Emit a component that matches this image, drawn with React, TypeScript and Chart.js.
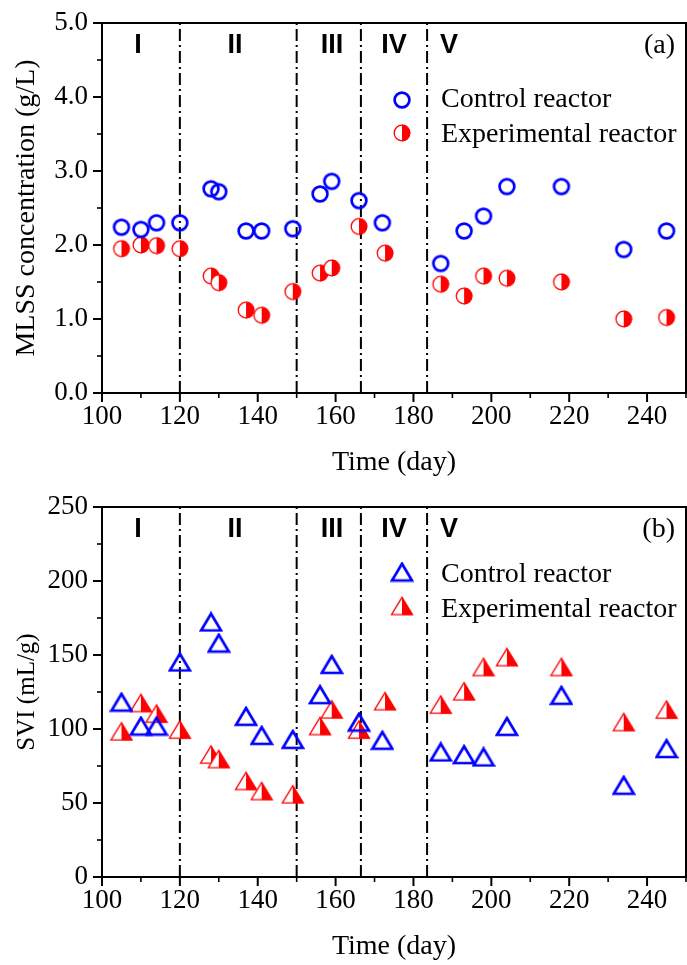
import React, { useEffect, useRef } from 'react';
import { Chart, registerables } from 'chart.js';
Chart.register(...registerables);

// ---- data ----
const phaseBounds = [120, 150, 166.5, 183.5];
const phaseLabels = ['I', 'II', 'III', 'IV', 'V'];

const mlssControlDays = [105, 110, 114, 120, 128, 130, 137, 141, 149, 156, 159, 166, 172, 187, 193, 198, 204, 218, 234, 245];
const mlssControl = [2.24, 2.21, 2.3, 2.3, 2.76, 2.72, 2.19, 2.19, 2.22, 2.69, 2.86, 2.6, 2.3, 1.75, 2.19, 2.39, 2.79, 2.79, 1.94, 2.19];
const mlssExpDays = [105, 110, 114, 120, 128, 130, 137, 141, 149, 156, 159, 166, 172.7, 187, 193, 198, 204, 218, 234, 245];
const mlssExp = [1.95, 2.0, 1.99, 1.95, 1.58, 1.49, 1.12, 1.05, 1.37, 1.62, 1.69, 2.25, 1.89, 1.47, 1.31, 1.58, 1.55, 1.5, 1.0, 1.02];

const sviControlDays = [105, 110, 114, 120, 128, 130, 137, 141, 149, 156, 159, 166, 172, 187, 193, 198, 204, 218, 234, 245];
const sviControl = [118.2, 102, 102, 145.3, 172.3, 158.1, 108.6, 95.7, 93, 123.2, 143.7, 104.7, 92.4, 84.5, 82.7, 81.1, 101.8, 122.8, 62, 86.8];
const sviExpDays = [105, 110, 114, 120, 128, 130, 137, 141, 149, 156, 159, 166, 172.7, 187, 193, 198, 204, 218, 234, 245];
const sviExp = [98.4, 117.6, 110.4, 99.6, 82.7, 79.7, 64.9, 58.1, 55.9, 102, 113.3, 99.6, 118.8, 116.5, 125.5, 141.9, 148.6, 141.9, 104.7, 113.1];

const xTickLabels = [100, 120, 140, 160, 180, 200, 220, 240];

// ---- layout / style ----
const SERIF = '"Liberation Serif", "Times New Roman", serif';
const SANS = '"Liberation Sans", Arial, sans-serif';
const BLUE = '#0000FF';
const RED = '#FF0000';
const phaseLabelX = [138, 235, 332, 394, 449];

function makeMarker(kind: string): HTMLCanvasElement {
  const c = document.createElement('canvas');
  const isTri = kind.startsWith('tri');
  c.width = isTri ? 24 : 20;
  c.height = isTri ? 21 : 20;
  const g = c.getContext('2d')!;
  if (kind === 'circleOpen') {
    g.strokeStyle = BLUE; g.lineWidth = 2.7;
    g.beginPath(); g.arc(10, 10, 7.4, 0, Math.PI * 2); g.stroke();
  } else if (kind === 'circleHalf') {
    g.fillStyle = '#fff';
    g.beginPath(); g.arc(10, 10, 7.8, 0, Math.PI * 2); g.fill();
    g.fillStyle = RED;
    g.beginPath(); g.arc(10, 10, 8.4, -Math.PI / 2, Math.PI / 2); g.closePath(); g.fill();
    g.strokeStyle = RED; g.lineWidth = 1.3;
    g.beginPath(); g.arc(10, 10, 7.8, 0, Math.PI * 2); g.stroke();
  } else if (kind === 'triOpen') {
    g.strokeStyle = BLUE; g.lineWidth = 2.7; g.lineJoin = 'miter';
    g.beginPath(); g.moveTo(12, 2.2); g.lineTo(22, 19); g.lineTo(2, 19); g.closePath(); g.stroke();
  } else {
    g.fillStyle = '#fff';
    g.beginPath(); g.moveTo(12, 1.5); g.lineTo(23, 19.6); g.lineTo(1, 19.6); g.closePath(); g.fill();
    g.fillStyle = RED;
    g.beginPath(); g.moveTo(12, 1.5); g.lineTo(23, 19.6); g.lineTo(12, 19.6); g.closePath(); g.fill();
    g.strokeStyle = RED; g.lineWidth = 1.3;
    g.beginPath(); g.moveTo(12, 1.8); g.lineTo(22.5, 19.2); g.lineTo(1.5, 19.2); g.closePath(); g.stroke();
  }
  return c;
}

type PanelCfg = {
  ctrlDays: number[]; ctrl: number[]; expDays: number[]; exp: number[];
  yMax: number; yStep: number; yMajor: number; yDec: number; yTitle: string; yTitleSize: number; tag: string;
  ctrlMarker: HTMLCanvasElement; expMarker: HTMLCanvasElement;
  padTop: number; xAxisH: number; titlePadBottom: number;
  legendBase: number[]; legendMarkerY: number[];
};

function build(canvas: HTMLCanvasElement, p: PanelCfg) {
  const annot = {
    id: 'annot',
    afterDraw(chart: any) {
      const { ctx, chartArea: a, scales } = chart;
      const x = scales.x, y = scales.y;
      ctx.save();
      ctx.strokeStyle = '#000';
      ctx.lineWidth = 2;
      ctx.strokeRect(a.left, a.top, a.right - a.left, a.bottom - a.top);
      x.ticks.forEach((t: any) => {
        const px = x.getPixelForValue(t.value);
        const major = t.value % 20 === 0;
        ctx.lineWidth = major ? 2 : 1.6;
        ctx.beginPath(); ctx.moveTo(px, a.bottom); ctx.lineTo(px, a.bottom + (major ? 9 : 5)); ctx.stroke();
      });
      y.ticks.forEach((t: any) => {
        const py = y.getPixelForValue(t.value);
        const r = t.value / p.yMajor;
        const major = Math.abs(r - Math.round(r)) < 1e-6;
        ctx.lineWidth = major ? 2 : 1.6;
        ctx.beginPath(); ctx.moveTo(a.left, py); ctx.lineTo(a.left - (major ? 9 : 5), py); ctx.stroke();
      });
      // phase labels
      ctx.fillStyle = '#000';
      ctx.textBaseline = 'alphabetic';
      ctx.textAlign = 'center';
      ctx.font = `bold 27px ${SANS}`;
      phaseLabels.forEach((l, i) => ctx.fillText(l, phaseLabelX[i], a.top + 30));
      ctx.font = `28px ${SERIF}`;
      ctx.textAlign = 'right';
      ctx.fillText(p.tag, 675, a.top + 30);
      // legend
      const items = [
        { m: p.ctrlMarker, t: 'Control reactor' },
        { m: p.expMarker, t: 'Experimental reactor' },
      ];
      ctx.textAlign = 'left';
      items.forEach((it, i) => {
        ctx.drawImage(it.m, 402 - it.m.width / 2, p.legendMarkerY[i] - it.m.height / 2);
        ctx.fillText(it.t, 441, p.legendBase[i]);
      });
      ctx.restore();
    },
  };

  const lineSets = phaseBounds.map((b) => ({
    data: [{ x: b, y: 0 }, { x: b, y: p.yMax }],
    showLine: true,
    borderColor: '#000',
    borderWidth: 2,
    borderDash: [12, 4, 2, 4],
    pointRadius: 0,
    order: 3,
  }));

  return new Chart(canvas, {
    type: 'scatter',
    data: {
      datasets: [
        ...lineSets,
        {
          label: 'Experimental reactor',
          data: p.expDays.map((d, i) => ({ x: d, y: p.exp[i] })),
          pointStyle: p.expMarker,
          pointRadius: 8,
          order: 2,
        },
        {
          label: 'Control reactor',
          data: p.ctrlDays.map((d, i) => ({ x: d, y: p.ctrl[i] })),
          pointStyle: p.ctrlMarker,
          pointRadius: 8,
          order: 1,
        },
      ] as any,
    },
    options: {
      animation: false,
      responsive: false,
      maintainAspectRatio: false,
      layout: { autoPadding: false, padding: { top: p.padTop, right: 1, left: 0, bottom: 0 } },
      plugins: { legend: { display: false }, tooltip: { enabled: false } },
      scales: {
        x: {
          type: 'linear',
          min: 100,
          max: 250,
          grid: { display: false, drawTicks: false },
          border: { display: false },
          ticks: {
            stepSize: 10,
            autoSkip: false,
            maxRotation: 0,
            padding: 8,
            color: '#000',
            font: { family: SERIF, size: 27 },
            callback: (v: any) => (xTickLabels.includes(Number(v)) ? String(v) : ''),
          },
          title: {
            display: true,
            text: 'Time (day)',
            color: '#000',
            font: { family: SERIF, size: 28 },
            padding: { top: 0, bottom: p.titlePadBottom },
          },
          afterFit: (s: any) => { s.height = p.xAxisH; s.paddingLeft = 0; s.paddingRight = 0; },
        },
        y: {
          min: 0,
          max: p.yMax,
          grid: { display: false, drawTicks: false },
          border: { display: false },
          ticks: {
            stepSize: p.yStep,
            padding: 14,
            color: '#000',
            font: { family: SERIF, size: 27 },
            callback: (v: any) => {
              const r = Number(v) / p.yMajor;
              return Math.abs(r - Math.round(r)) < 1e-6 ? Number(v).toFixed(p.yDec) : '';
            },
          },
          title: {
            display: true,
            text: p.yTitle,
            color: '#000',
            font: { family: SERIF, size: p.yTitleSize },
            padding: { top: 27 - p.yTitleSize * 0.6, bottom: 0 },
          },
          afterFit: (s: any) => { s.width = 102; s.paddingTop = 0; s.paddingBottom = 0; },
        },
      },
    } as any,
    plugins: [annot],
  });
}

export default function App() {
  const topRef = useRef<HTMLCanvasElement>(null);
  const botRef = useRef<HTMLCanvasElement>(null);

  useEffect(() => {
    const c1 = build(topRef.current!, {
      ctrlDays: mlssControlDays, ctrl: mlssControl, expDays: mlssExpDays, exp: mlssExp,
      yMax: 5, yStep: 0.5, yMajor: 1, yDec: 1, yTitle: 'MLSS concentration (g/L)', yTitleSize: 28, tag: '(a)',
      ctrlMarker: makeMarker('circleOpen'), expMarker: makeMarker('circleHalf'),
      padTop: 23, xAxisH: 89, titlePadBottom: 3,
      legendBase: [107, 142], legendMarkerY: [100, 133],
    });
    const c2 = build(botRef.current!, {
      ctrlDays: sviControlDays, ctrl: sviControl, expDays: sviExpDays, exp: sviExp,
      yMax: 250, yStep: 25, yMajor: 50, yDec: 0, yTitle: 'SVI (mL/g)', yTitleSize: 25, tag: '(b)',
      ctrlMarker: makeMarker('triOpen'), expMarker: makeMarker('triHalf'),
      padTop: 25, xAxisH: 88, titlePadBottom: 2,
      legendBase: [582 - 482, 617 - 482], legendMarkerY: [572 - 482, 606 - 482],
    });
    return () => { c1.destroy(); c2.destroy(); };
  }, []);

  return (
    <div style={{ position: 'absolute', left: 0, top: 0, width: 687, height: 965, background: '#fff' }}>
      <canvas ref={topRef} width={687} height={482} style={{ position: 'absolute', left: 0, top: 0, display: 'block' }} />
      <canvas ref={botRef} width={687} height={483} style={{ position: 'absolute', left: 0, top: 482, display: 'block' }} />
    </div>
  );
}
